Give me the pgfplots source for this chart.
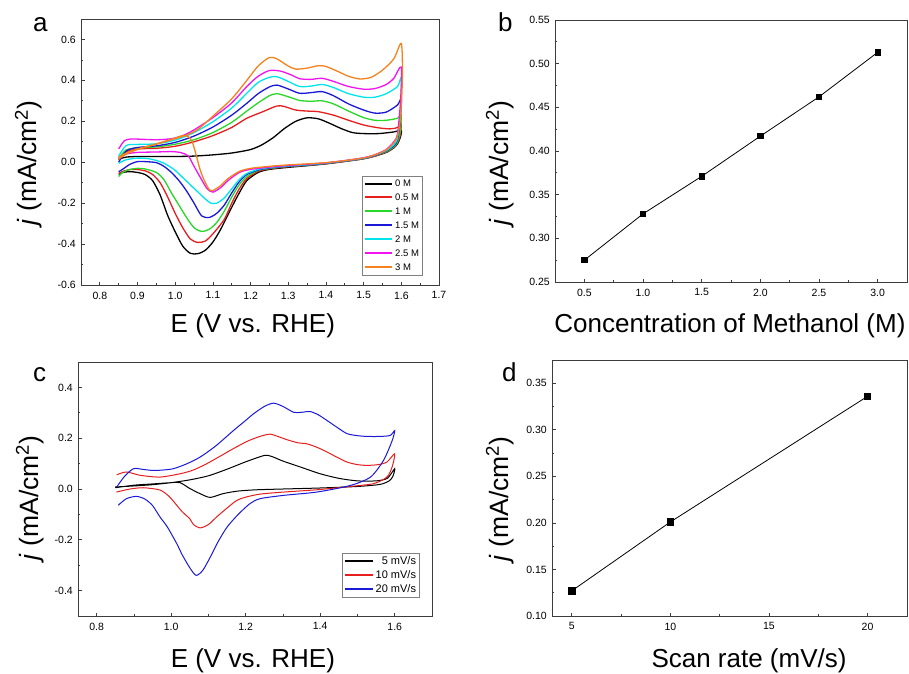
\documentclass[border=0pt]{standalone}
\usepackage{fontspec}
\setmainfont{Liberation Sans}
\usepackage{pgfplots}
\pgfplotsset{compat=1.18}

\definecolor{curveRed}{RGB}{230,30,30}
\definecolor{curveGreen}{RGB}{40,215,40}
\definecolor{curveBlue}{RGB}{25,25,215}
\definecolor{curveCyan}{RGB}{0,228,235}
\definecolor{curveMagenta}{RGB}{240,20,240}
\definecolor{curveOrange}{RGB}{245,130,30}
\definecolor{frm}{RGB}{60,60,60}

\pgfplotsset{
 panel/.style={
  scale only axis, anchor=south west,
  axis line style={frm, line width=0.8pt},
  tick align=inside, tick pos=left,
  major tick length=3.5pt, minor tick length=2pt,
  every tick/.style={frm, line width=0.7pt},
  tick label style={font=\fontsize{10.5}{12}\selectfont, text=black},
  yticklabel style={inner sep=2pt, xshift=-3pt},
  xticklabel style={inner sep=2pt, yshift=-4.5pt},
  /pgf/number format/assume math mode=true,
  minor x tick num=1, minor y tick num=1,
 },
 xl/.style n args={2}{every axis x label/.style={at={(axis description cs:#1,0)}, yshift=#2, anchor=north, inner sep=0pt, font=\fontsize{26}{29}\selectfont}},
 yl/.style n args={2}{every axis y label/.style={at={(axis description cs:0,#1)}, xshift=#2, rotate=90, anchor=base, inner sep=0pt, font=\fontsize{26.5}{29}\selectfont}},
 fmt/.style={/pgf/number format/.cd, fixed, fixed zerofill, precision=#1},
}

\begin{document}
\begin{tikzpicture}
\useasboundingbox (0,0) rectangle (909pt,673pt);

% ---------------- panel a ----------------
\begin{axis}[panel, at={(81pt,388pt)}, width=358pt, height=266pt,
  xmin=0.75, xmax=1.7, ymin=-0.6, ymax=0.7,
  xtick={0.8,0.9,...,1.71}, ytick={-0.6,-0.4,...,0.61},
  xticklabel style={fmt=1}, yticklabel style={fmt=1},
  xl={0.48}{-28pt}, yl={0.459}{-44pt},
  xlabel={E (V vs. RHE)}, ylabel={\textit{j} (mA/cm\textsuperscript{2})},
  legend style={at={(0.955,0.036)}, anchor=south east, draw=gray, line width=0.8pt,
    font=\fontsize{9.5}{11}\selectfont, inner sep=1.5pt, row sep=1.8pt},
  legend cell align=left,
  legend image code/.code={\draw[#1, line width=2pt] (0pt,0.5pt) -- (27pt,0.5pt);},
  every axis plot/.append style={line width=1.3pt, smooth, tension=0.45},
]
\addplot[color=black] coordinates {
(0.85,0.015) (0.87,0.025) (0.9,0.028) (0.95,0.028) (1.0,0.028) (1.05,0.03) (1.1,0.036) (1.15,0.045) (1.2,0.062) (1.23,0.085) (1.26,0.12) (1.29,0.165) (1.32,0.2) (1.35,0.217) (1.38,0.212) (1.41,0.19) (1.44,0.165) (1.47,0.145) (1.5,0.14) (1.54,0.14) (1.58,0.148) (1.6,0.155)
(1.597,0.12) (1.59,0.09) (1.58,0.07) (1.56,0.048) (1.53,0.03) (1.5,0.017) (1.45,0.004) (1.4,-0.008) (1.35,-0.017) (1.3,-0.025) (1.25,-0.035) (1.22,-0.05) (1.19,-0.09) (1.17,-0.15) (1.15,-0.22) (1.12,-0.33) (1.1,-0.39) (1.08,-0.43) (1.06,-0.447) (1.04,-0.445) (1.02,-0.41) (1.0,-0.34) (0.98,-0.26) (0.96,-0.16) (0.94,-0.09) (0.92,-0.06) (0.9,-0.05) (0.88,-0.046) (0.86,-0.05) (0.85,-0.06)};
\addlegendentry{0 M}
\addplot[color=curveRed] coordinates {
(0.85,0.01) (0.87,0.05) (0.9,0.065) (0.95,0.068) (1.0,0.078) (1.05,0.1) (1.1,0.13) (1.15,0.17) (1.19,0.215) (1.23,0.245) (1.27,0.275) (1.29,0.272) (1.32,0.255) (1.35,0.25) (1.38,0.247) (1.42,0.23) (1.46,0.205) (1.5,0.182) (1.54,0.168) (1.57,0.163) (1.59,0.17) (1.6,0.19)
(1.597,0.13) (1.59,0.095) (1.58,0.072) (1.56,0.05) (1.53,0.03) (1.5,0.017) (1.45,0.004) (1.4,-0.007) (1.35,-0.015) (1.3,-0.022) (1.25,-0.032) (1.22,-0.045) (1.19,-0.08) (1.17,-0.13) (1.15,-0.2) (1.13,-0.28) (1.1,-0.35) (1.08,-0.385) (1.06,-0.392) (1.04,-0.375) (1.02,-0.32) (1.0,-0.25) (0.98,-0.17) (0.96,-0.1) (0.94,-0.06) (0.92,-0.042) (0.9,-0.036) (0.88,-0.036) (0.86,-0.045) (0.85,-0.055)};
\addlegendentry{0.5 M}
\addplot[color=curveGreen] coordinates {
(0.85,0.02) (0.87,0.06) (0.9,0.07) (0.95,0.075) (1.0,0.088) (1.05,0.11) (1.1,0.145) (1.15,0.195) (1.19,0.25) (1.22,0.29) (1.25,0.325) (1.27,0.335) (1.3,0.32) (1.33,0.302) (1.36,0.298) (1.39,0.3) (1.42,0.285) (1.46,0.25) (1.5,0.218) (1.53,0.205) (1.56,0.205) (1.59,0.215) (1.6,0.23)
(1.597,0.15) (1.59,0.1) (1.58,0.075) (1.56,0.052) (1.53,0.032) (1.5,0.018) (1.45,0.005) (1.4,-0.006) (1.35,-0.014) (1.3,-0.02) (1.25,-0.03) (1.22,-0.04) (1.19,-0.07) (1.17,-0.11) (1.15,-0.17) (1.13,-0.24) (1.11,-0.295) (1.09,-0.328) (1.07,-0.338) (1.05,-0.32) (1.03,-0.27) (1.01,-0.21) (0.99,-0.15) (0.97,-0.085) (0.95,-0.05) (0.92,-0.033) (0.9,-0.03) (0.88,-0.035) (0.86,-0.05) (0.85,-0.07)};
\addlegendentry{1 M}
\addplot[color=curveBlue] coordinates {
(0.85,0.0) (0.87,0.055) (0.9,0.072) (0.95,0.08) (1.0,0.097) (1.05,0.128) (1.1,0.172) (1.15,0.23) (1.19,0.288) (1.22,0.335) (1.25,0.368) (1.27,0.377) (1.3,0.358) (1.33,0.337) (1.36,0.34) (1.39,0.345) (1.42,0.325) (1.46,0.285) (1.5,0.255) (1.53,0.24) (1.56,0.245) (1.59,0.28) (1.6,0.31)
(1.597,0.2) (1.59,0.11) (1.58,0.08) (1.56,0.055) (1.53,0.033) (1.5,0.019) (1.45,0.006) (1.4,-0.005) (1.35,-0.013) (1.3,-0.019) (1.25,-0.028) (1.22,-0.038) (1.19,-0.06) (1.17,-0.095) (1.15,-0.15) (1.13,-0.21) (1.11,-0.25) (1.09,-0.27) (1.07,-0.262) (1.05,-0.2) (1.03,-0.14) (1.01,-0.09) (0.99,-0.05) (0.97,-0.02) (0.95,-0.002) (0.92,0.003) (0.9,0.003) (0.88,-0.01) (0.86,-0.035) (0.85,-0.046)};
\addlegendentry{1.5 M}
\addplot[color=curveCyan] coordinates {
(0.85,0.03) (0.87,0.082) (0.9,0.087) (0.95,0.09) (1.0,0.108) (1.05,0.145) (1.1,0.198) (1.15,0.265) (1.19,0.337) (1.22,0.39) (1.25,0.415) (1.27,0.418) (1.3,0.395) (1.33,0.37) (1.36,0.372) (1.39,0.38) (1.42,0.365) (1.46,0.335) (1.5,0.318) (1.53,0.318) (1.56,0.335) (1.59,0.37) (1.6,0.41)
(1.598,0.25) (1.59,0.12) (1.58,0.085) (1.56,0.057) (1.53,0.035) (1.5,0.02) (1.45,0.007) (1.4,-0.004) (1.35,-0.012) (1.3,-0.018) (1.25,-0.026) (1.22,-0.035) (1.19,-0.055) (1.17,-0.085) (1.15,-0.13) (1.13,-0.175) (1.11,-0.2) (1.095,-0.2) (1.08,-0.18) (1.06,-0.145) (1.04,-0.11) (1.02,-0.075) (1.0,-0.04) (0.98,-0.015) (0.96,0.003) (0.93,0.017) (0.9,0.02) (0.87,0.012) (0.85,-0.005)};
\addlegendentry{2 M}
\addplot[color=curveMagenta] coordinates {
(0.85,0.065) (0.865,0.105) (0.88,0.113) (0.9,0.113) (0.95,0.11) (0.99,0.115) (1.02,0.13) (1.05,0.158) (1.1,0.218) (1.15,0.29) (1.19,0.37) (1.22,0.42) (1.25,0.448) (1.28,0.445) (1.31,0.425) (1.33,0.408) (1.36,0.405) (1.39,0.41) (1.42,0.395) (1.46,0.37) (1.5,0.357) (1.53,0.36) (1.56,0.38) (1.58,0.41) (1.6,0.465)
(1.598,0.3) (1.59,0.14) (1.58,0.1) (1.56,0.062) (1.53,0.037) (1.5,0.022) (1.45,0.008) (1.4,-0.003) (1.35,-0.01) (1.3,-0.016) (1.25,-0.024) (1.2,-0.035) (1.17,-0.05) (1.14,-0.09) (1.12,-0.125) (1.1,-0.146) (1.085,-0.13) (1.07,-0.085) (1.05,-0.02) (1.035,0.03) (1.015,0.047) (0.99,0.052) (0.95,0.05) (0.9,0.048) (0.87,0.04) (0.85,0.02)};
\addlegendentry{2.5 M}
\addplot[color=curveOrange] coordinates {
(0.85,0.015) (0.87,0.04) (0.9,0.062) (0.95,0.088) (1.0,0.115) (1.03,0.133) (1.06,0.16) (1.1,0.225) (1.15,0.31) (1.19,0.4) (1.22,0.47) (1.25,0.512) (1.27,0.505) (1.3,0.47) (1.32,0.455) (1.35,0.46) (1.38,0.472) (1.4,0.468) (1.43,0.445) (1.46,0.42) (1.49,0.407) (1.52,0.415) (1.55,0.45) (1.58,0.505) (1.6,0.58)
(1.603,0.42) (1.598,0.22) (1.59,0.13) (1.58,0.095) (1.56,0.06) (1.53,0.036) (1.5,0.021) (1.45,0.008) (1.4,-0.002) (1.35,-0.008) (1.3,-0.013) (1.25,-0.02) (1.2,-0.03) (1.17,-0.045) (1.14,-0.08) (1.12,-0.115) (1.1,-0.138) (1.09,-0.133) (1.075,-0.08) (1.065,-0.03) (1.055,0.04) (1.045,0.1) (1.035,0.125) (1.02,0.13) (1.0,0.118) (0.95,0.09) (0.9,0.065) (0.87,0.045) (0.85,0.025)};
\addlegendentry{3 M}
\end{axis}

% ---------------- panel b ----------------
\begin{axis}[panel, at={(555pt,391pt)}, width=352pt, height=262pt,
  xmin=0.25, xmax=3.25, ymin=0.25, ymax=0.55,
  xtick={0.5,1.0,...,3.01}, ytick={0.25,0.30,...,0.551},
  xticklabel style={fmt=1}, yticklabel style={fmt=2},
  xl={0.497}{-31pt}, yl={0.454}{-47pt},
  xlabel={Concentration of Methanol (M)}, ylabel={\textit{j} (mA/cm\textsuperscript{2})},
]
\addplot[black, line width=0.8pt, mark=square*, mark size=2.6pt] coordinates {
(0.5,0.275) (1.0,0.328) (1.5,0.371) (2.0,0.417) (2.5,0.462) (3.0,0.513)};
\end{axis}

% ---------------- panel c ----------------
\begin{axis}[panel, at={(78pt,57pt)}, width=354pt, height=254pt,
  xmin=0.75, xmax=1.7, ymin=-0.5, ymax=0.5,
  xtick={0.8,1.0,...,1.61}, ytick={-0.4,-0.2,...,0.41},
  xticklabel style={fmt=1}, yticklabel style={fmt=1},
  xl={0.494}{-32pt}, yl={0.465}{-40pt},
  legend style={at={(0.966,0.071)}, anchor=south east, draw=gray, line width=0.8pt,
    font=\fontsize{11}{12}\selectfont, inner sep=1.5pt, row sep=0.5pt},
  legend cell align=right,
  legend image code/.code={\draw[#1, line width=1.5pt] (0pt,0.5pt) -- (28pt,0.5pt);},
  xlabel={E (V vs. RHE)}, ylabel={\textit{j} (mA/cm\textsuperscript{2})},
  every axis plot/.append style={line width=1pt, smooth, tension=0.45},
]
\addplot[color=black] coordinates {
(0.85,0.008) (0.9,0.012) (0.95,0.017) (1.0,0.025) (1.05,0.036) (1.1,0.052) (1.15,0.078) (1.2,0.107) (1.25,0.132) (1.27,0.128) (1.3,0.11) (1.35,0.085) (1.4,0.06) (1.45,0.042) (1.5,0.032) (1.55,0.032) (1.58,0.042) (1.6,0.08)
(1.595,0.05) (1.585,0.032) (1.56,0.018) (1.5,0.01) (1.4,0.004) (1.3,0.0) (1.23,-0.003) (1.18,-0.008) (1.14,-0.018) (1.105,-0.033) (1.08,-0.02) (1.05,0.002) (1.024,0.025) (1.0,0.025) (0.95,0.02) (0.9,0.015) (0.85,0.005)};
\addlegendentry{5 mV/s}
\addplot[color=curveRed] coordinates {
(0.854,0.056) (0.88,0.067) (0.917,0.054) (0.97,0.047) (1.024,0.06) (1.06,0.075) (1.096,0.1) (1.13,0.128) (1.167,0.159) (1.2,0.185) (1.221,0.198) (1.245,0.21) (1.266,0.216) (1.29,0.205) (1.311,0.194) (1.34,0.182) (1.364,0.178) (1.39,0.165) (1.418,0.146) (1.445,0.125) (1.472,0.106) (1.5,0.096) (1.526,0.093) (1.555,0.096) (1.579,0.106) (1.6,0.139)
(1.593,0.087) (1.579,0.047) (1.543,0.021) (1.48,0.01) (1.391,-0.003) (1.302,-0.012) (1.239,-0.02) (1.2,-0.032) (1.176,-0.045) (1.15,-0.075) (1.122,-0.11) (1.1,-0.14) (1.078,-0.153) (1.06,-0.14) (1.05,-0.117) (1.03,-0.09) (1.015,-0.064) (0.995,-0.03) (0.97,-0.004) (0.925,0.005) (0.89,0.0) (0.853,-0.012)};
\addlegendentry{10 mV/s}
\addplot[color=curveBlue] coordinates {
(0.854,0.008) (0.875,0.05) (0.899,0.08) (0.925,0.077) (0.952,0.073) (0.98,0.075) (1.006,0.08) (1.04,0.098) (1.078,0.126) (1.12,0.17) (1.167,0.23) (1.2,0.27) (1.221,0.296) (1.25,0.325) (1.275,0.338) (1.3,0.325) (1.329,0.302) (1.35,0.302) (1.373,0.305) (1.395,0.292) (1.418,0.27) (1.445,0.243) (1.472,0.218) (1.5,0.21) (1.526,0.207) (1.56,0.207) (1.588,0.211) (1.6,0.23)
(1.593,0.19) (1.57,0.113) (1.535,0.047) (1.481,0.014) (1.391,-0.012) (1.302,-0.025) (1.239,-0.038) (1.212,-0.057) (1.18,-0.1) (1.15,-0.15) (1.125,-0.21) (1.105,-0.268) (1.085,-0.32) (1.067,-0.34) (1.05,-0.31) (1.03,-0.26) (1.015,-0.215) (0.99,-0.15) (0.97,-0.11) (0.95,-0.065) (0.93,-0.04) (0.907,-0.029) (0.88,-0.038) (0.858,-0.064)};
\addlegendentry{20 mV/s}
\end{axis}

% ---------------- panel d ----------------
\begin{axis}[panel, at={(552pt,57pt)}, width=355pt, height=256pt,
  xmin=4, xmax=22, ymin=0.10, ymax=0.375,
  xtick={5,10,15,20}, ytick={0.10,0.15,...,0.351},
  yticklabel style={fmt=2},
  xl={0.555}{-32pt}, yl={0.457}{-44pt},
  xlabel={Scan rate (mV/s)}, ylabel={\textit{j} (mA/cm\textsuperscript{2})},
]
\addplot[black, line width=0.8pt, mark=square*, mark size=3.2pt] coordinates {
(5,0.127) (10,0.201) (20,0.336)};
\end{axis}

\node[anchor=base west, inner sep=0pt, font=\fontsize{26}{28}\selectfont] at (33pt,641pt) {a};
\node[anchor=base west, inner sep=0pt, font=\fontsize{26}{28}\selectfont] at (498pt,641pt) {b};
\node[anchor=base west, inner sep=0pt, font=\fontsize{26}{28}\selectfont] at (33pt,292pt) {c};
\node[anchor=base west, inner sep=0pt, font=\fontsize{26}{28}\selectfont] at (502pt,292pt) {d};
\end{tikzpicture}
\end{document}
